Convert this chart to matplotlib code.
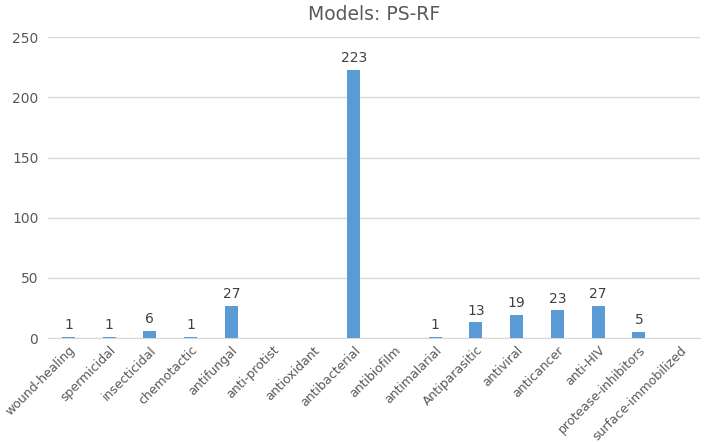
import matplotlib
matplotlib.use("Agg")
import matplotlib.pyplot as plt

categories = ["wound-healing", "spermicidal", "insecticidal", "chemotactic", "antifungal",
              "anti-protist", "antioxidant", "antibacterial", "antibiofilm", "antimalarial",
              "Antiparasitic", "antiviral", "anticancer", "anti-HIV", "protease-inhibitors",
              "surface-immobilized"]
values = [1, 1, 6, 1, 27, 0, 0, 223, 0, 1, 13, 19, 23, 27, 5, 0]
yticks = [0, 50, 100, 150, 200, 250]
title = "Models: PS-RF"

plt.rcParams['font.family'] = ['DejaVu Sans']
txt = "#595959"

fig = plt.figure(figsize=(7.07, 4.42), dpi=100)
ax = fig.add_axes([0.068, 0.235, 0.922, 0.681])
x = list(range(len(categories)))
bars = ax.bar(x, values, width=0.32, color="#5B9BD5", zorder=3)
for xi, v in zip(x, values):
    if v > 0:
        ax.text(xi, v + 4, str(v), ha="center", va="bottom", fontsize=10, color="#404040")
ax.set_xlim(-0.5, len(categories) - 0.5)
ax.set_ylim(0, 250)
ax.set_yticks(yticks)
ax.set_yticklabels([str(t) for t in yticks], fontsize=10, color=txt)
ax.set_xticks(x)
ax.set_xticklabels(categories, rotation=45, ha="right", rotation_mode="anchor",
                   fontsize=9, color=txt)
ax.grid(axis="y", color="#d9d9d9", linewidth=1, zorder=0)
for s in ["top", "right", "left"]:
    ax.spines[s].set_visible(False)
ax.spines["bottom"].set_color("#d9d9d9")
ax.tick_params(axis="y", length=0, pad=7)
ax.tick_params(axis="x", length=0, pad=4)
ax.set_title(title, fontsize=13.5, color=txt, pad=12)
fig.savefig("out.png", dpi=100)
